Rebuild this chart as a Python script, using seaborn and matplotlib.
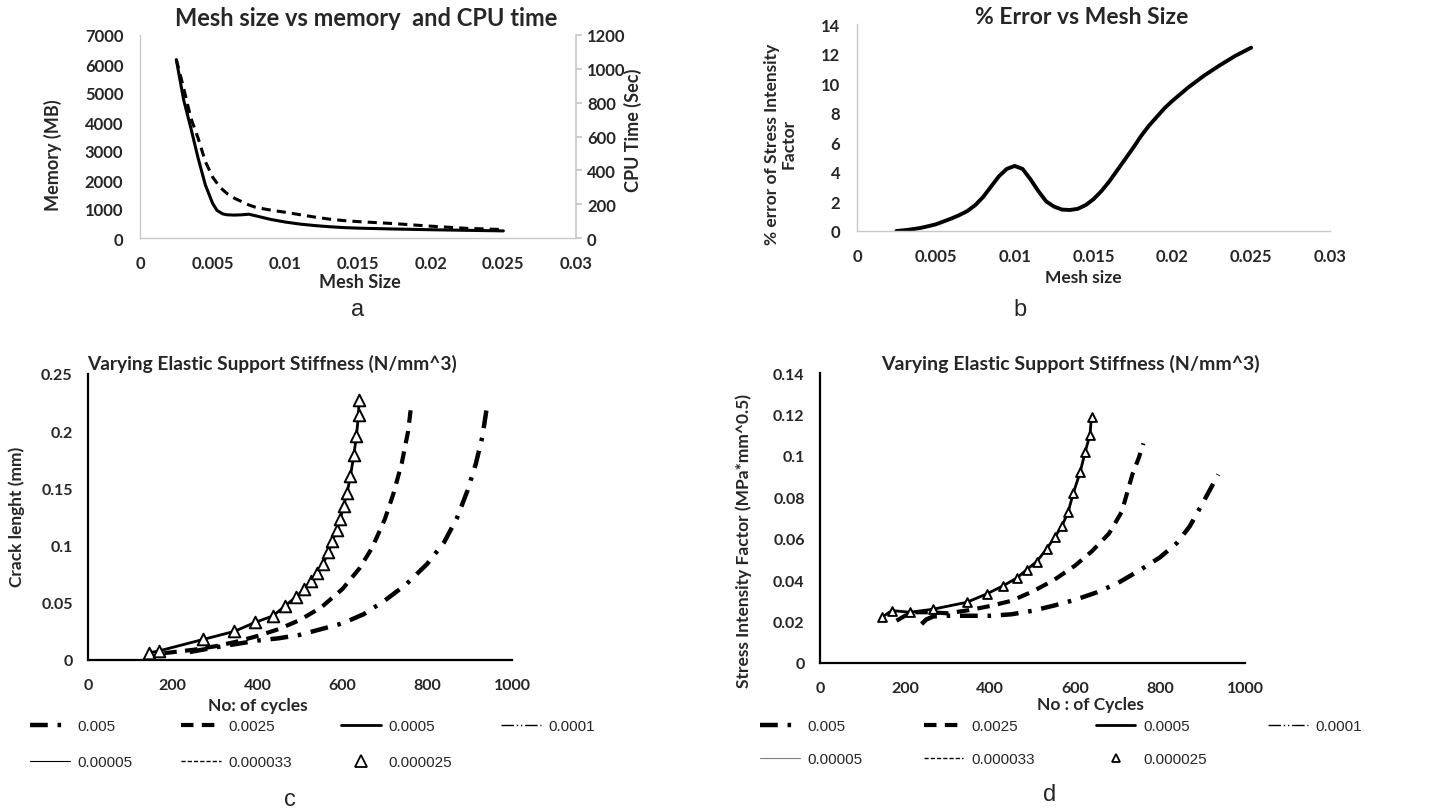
import numpy as np
import pandas as pd
import matplotlib
matplotlib.use("Agg")
import matplotlib.pyplot as plt
import seaborn as sns
from matplotlib.lines import Line2D
from matplotlib import font_manager

# ---------------- data ----------------
# panel a : memory (left axis) and CPU time (right axis) vs mesh size
mesh_mem = [0.0025, 0.003, 0.0035, 0.004, 0.0045, 0.005, 0.0053, 0.0057, 0.006, 0.0065, 0.007,
            0.0075, 0.008, 0.009, 0.01, 0.011, 0.012, 0.013, 0.014, 0.015, 0.0175, 0.02, 0.0225, 0.025]
memory_mb = [6150, 4770, 3790, 2750, 1825, 1190, 950, 830, 800, 790, 800,
             820, 760, 640, 550, 480, 430, 390, 360, 340, 310, 285, 265, 245]
mesh_cpu = [0.0025, 0.003, 0.0035, 0.004, 0.0045, 0.005, 0.0055, 0.006, 0.0065, 0.007, 0.0075,
            0.008, 0.009, 0.01, 0.011, 0.012, 0.013, 0.014, 0.015, 0.0175, 0.02, 0.0225, 0.025]
cpu_sec = [1055, 887, 709, 590, 451, 360, 300, 262, 235, 215, 195,
           180, 165, 152, 138, 124, 112, 103, 97, 85, 70, 57, 50]

# panel b : % error vs mesh size
mesh_err = [0.0025, 0.003, 0.0035, 0.004, 0.0045, 0.005, 0.0055, 0.006, 0.0065, 0.007, 0.0075,
            0.008, 0.0085, 0.009, 0.0095, 0.01, 0.0105, 0.011, 0.0115, 0.012, 0.0125, 0.013,
            0.0135, 0.014, 0.0145, 0.015, 0.0155, 0.016, 0.0165, 0.017, 0.0175, 0.018, 0.0185,
            0.019, 0.0195, 0.02, 0.021, 0.022, 0.023, 0.024, 0.025]
pct_error = [0.0, 0.05, 0.12, 0.2, 0.32, 0.45, 0.65, 0.85, 1.08, 1.35, 1.75,
             2.3, 3.0, 3.7, 4.2, 4.4, 4.2, 3.5, 2.7, 2.0, 1.65, 1.45,
             1.42, 1.5, 1.75, 2.15, 2.7, 3.35, 4.1, 4.85, 5.6, 6.4, 7.1,
             7.7, 8.3, 8.8, 9.7, 10.5, 11.2, 11.85, 12.4]

# panel c : crack length vs number of cycles
c_cyc_005 = [240, 300, 350, 400, 450, 500, 550, 600, 650, 700, 750, 800, 840, 870, 895, 915, 930, 942]
c_len_005 = [0.007, 0.011, 0.014, 0.017, 0.019, 0.022, 0.027, 0.032, 0.040, 0.052, 0.066, 0.084,
             0.103, 0.124, 0.148, 0.172, 0.195, 0.224]
c_cyc_0025 = [180, 250, 300, 350, 400, 450, 500, 550, 600, 640, 670, 700, 720, 740, 755, 763]
c_len_0025 = [0.006, 0.009, 0.012, 0.016, 0.021, 0.027, 0.035, 0.046, 0.062, 0.080, 0.098, 0.123,
              0.145, 0.172, 0.200, 0.225]
c_cyc_fine = [145, 167, 272, 345, 395, 436, 464, 490, 510, 526, 541, 554, 567, 576, 587,
              595, 603, 611, 619, 627, 633, 638, 639]
c_len_fine = [0.0064, 0.0079, 0.018, 0.025, 0.033, 0.0385, 0.047, 0.055, 0.062, 0.069, 0.076,
              0.084, 0.094, 0.104, 0.114, 0.123, 0.135, 0.146, 0.161, 0.179, 0.196, 0.214, 0.227]

# panel d : stress intensity factor vs number of cycles
d_cyc_005 = [239, 250, 267, 300, 350, 400, 450, 500, 550, 600, 650, 700, 750, 800, 840, 870, 900, 937]
d_sif_005 = [0.0188, 0.021, 0.0225, 0.0228, 0.0228, 0.0228, 0.0235, 0.0252, 0.0277, 0.0305, 0.034,
             0.0385, 0.0445, 0.051, 0.058, 0.066, 0.077, 0.091]
d_cyc_0025 = [180, 200, 220, 260, 300, 350, 400, 450, 500, 550, 600, 640, 680, 710, 735, 750, 761]
d_sif_0025 = [0.0204, 0.0228, 0.0245, 0.0245, 0.024, 0.0255, 0.0275, 0.030, 0.0345, 0.040, 0.047,
              0.054, 0.0625, 0.073, 0.091, 0.099, 0.106]
d_cyc_fine = [145, 169, 212, 267, 345, 392, 431, 463, 486, 510, 533, 553, 569, 584, 596,
              612, 624, 635, 639]
d_sif_fine = [0.022, 0.0253, 0.0245, 0.026, 0.0293, 0.0333, 0.0373, 0.041, 0.045, 0.049,
              0.055, 0.061, 0.066, 0.073, 0.082, 0.092, 0.102, 0.110, 0.119]

stiffness_labels = ["0.005", "0.0025", "0.0005", "0.0001", "0.00005", "0.000033", "0.000025"]

mesh_ticks = [0, 0.005, 0.01, 0.015, 0.02, 0.025, 0.03]
mesh_ticklabels = ["0", "0.005", "0.01", "0.015", "0.02", "0.025", "0.03"]
mem_ticks = [0, 1000, 2000, 3000, 4000, 5000, 6000, 7000]
cpu_ticks = [0, 200, 400, 600, 800, 1000, 1200]
err_ticks = [0, 2, 4, 6, 8, 10, 12, 14]
cyc_ticks = [0, 200, 400, 600, 800, 1000]
len_ticks = [0, 0.05, 0.1, 0.15, 0.2, 0.25]
len_ticklabels = ["0", "0.05", "0.1", "0.15", "0.2", "0.25"]
sif_ticks = [0, 0.02, 0.04, 0.06, 0.08, 0.1, 0.12, 0.14]
sif_ticklabels = ["0", "0.02", "0.04", "0.06", "0.08", "0.1", "0.12", "0.14"]

# ---------------- style ----------------
sns.set_theme(style="white")
avail = {f.name for f in font_manager.fontManager.ttflist}
BOLD = next((f for f in ["Lato", "Open Sans", "DejaVu Sans"] if f in avail), "DejaVu Sans")
plt.rcParams["font.family"] = [BOLD, "DejaVu Sans"]
REG = ["Liberation Sans", "DejaVu Sans"]

W, H = 1431, 812
fig = plt.figure(figsize=(W / 100, H / 100), dpi=100)


def rect(l, t, r, b):
    return [l / W, 1 - b / H, (r - l) / W, (b - t) / H]


def ftext(x, y, s, **kw):
    kw.setdefault("ha", "center")
    kw.setdefault("va", "center")
    fig.text(x / W, 1 - y / H, s, **kw)


def style_ax(ax, spine_color, tick_fs, ypad, xpad):
    for s in ["top", "right"]:
        ax.spines[s].set_visible(False)
    for s in ["left", "bottom"]:
        ax.spines[s].set_color(spine_color)
        ax.spines[s].set_linewidth(1.0 if spine_color != "black" else 1.6)
    ax.tick_params(axis="both", length=0, labelsize=tick_fs)
    ax.tick_params(axis="y", pad=ypad)
    ax.tick_params(axis="x", pad=xpad)
    for lab in ax.get_xticklabels() + ax.get_yticklabels():
        lab.set_fontweight("bold")
    ax.set_xlabel("")
    ax.set_ylabel("")
    ax.grid(False)


GRAY_AX = "#c8c8c8"

# ---------------- panel a ----------------
axa = fig.add_axes(rect(140, 36, 576, 239))
sns.lineplot(x=mesh_mem, y=memory_mb, ax=axa, color="black", lw=2.2, estimator=None, sort=False)
axa.set_xlim(0, 0.03)
axa.set_ylim(0, 7000)
axa.set_xticks(mesh_ticks)
axa.set_xticklabels(mesh_ticklabels)
axa.set_yticks(mem_ticks)
axa.set_yticklabels([str(v) for v in mem_ticks])
style_ax(axa, GRAY_AX, 12, ypad=12, xpad=12)
axa2 = axa.twinx()
sns.lineplot(x=mesh_cpu, y=cpu_sec, ax=axa2, color="black", lw=2.2, linestyle=(0, (3, 2)),
             estimator=None, sort=False)
axa2.set_ylim(0, 1200)
axa2.set_yticks(cpu_ticks)
axa2.set_yticklabels([str(v) for v in cpu_ticks])
for s in ["top", "left", "bottom"]:
    axa2.spines[s].set_visible(False)
axa2.spines["right"].set_color(GRAY_AX)
axa2.tick_params(axis="y", length=4, color=GRAY_AX, labelsize=12, pad=4)
for lab in axa2.get_yticklabels():
    lab.set_fontweight("bold")
axa2.set_ylabel("")
axa2.grid(False)
ftext(366, 19, "Mesh size vs memory  and CPU time", fontsize=17, fontweight="bold")
ftext(53, 155, "Memory (MB)", fontsize=13, fontweight="bold", rotation=90)
ftext(633, 130, "CPU Time (Sec)", fontsize=13, fontweight="bold", rotation=90)
ftext(360, 282, "Mesh Size", fontsize=13, fontweight="bold")
ftext(358, 310, "a", fontsize=17, family=REG)

# ---------------- panel b ----------------
axb = fig.add_axes(rect(857, 25, 1330, 232))
sns.lineplot(x=mesh_err, y=pct_error, ax=axb, color="black", lw=2.8, estimator=None, sort=False)
axb.set_xlim(0, 0.03)
axb.set_ylim(0, 14)
axb.set_xticks(mesh_ticks)
axb.set_xticklabels(mesh_ticklabels)
axb.set_yticks(err_ticks)
axb.set_yticklabels([str(v) for v in err_ticks])
style_ax(axb, GRAY_AX, 12, ypad=12, xpad=12)
ftext(1082, 18, "% Error vs Mesh Size", fontsize=16.5, fontweight="bold")
ftext(780, 144, "% error of Stress Intensity\nFactor", fontsize=12.5, fontweight="bold",
      rotation=90, linespacing=1.05)
ftext(1083, 278, "Mesh size", fontsize=12.5, fontweight="bold")
ftext(1020, 310, "b", fontsize=17, family=REG)

# ---------------- series styles (panels c, d) ----------------
STY = {
    "0.005": dict(lw=3.2, linestyle=(0, (4, 2.2, 0.8, 2.2))),
    "0.0025": dict(lw=3.0, linestyle=(0, (3, 2))),
    "0.0005": dict(lw=2.0, linestyle="-"),
    "0.0001": dict(lw=1.0, linestyle=(0, (9, 2, 1, 2, 1, 2))),
    "0.00005": dict(lw=0.8, linestyle="-"),
    "0.000033": dict(lw=1.0, linestyle=(0, (3, 1.5))),
}


def draw_panel(ax, data, tri_ms, fine_color):
    for lab, (xs, ys) in data.items():
        if lab == "0.000025":
            sns.scatterplot(x=xs, y=ys, ax=ax, marker="^", s=tri_ms, facecolor="white",
                            edgecolor="black", linewidth=1.4, zorder=5)
        else:
            col = fine_color if lab == "0.00005" else "black"
            sns.lineplot(x=xs, y=ys, ax=ax, color=col, estimator=None, sort=False, **STY[lab])


def make_legend(ax, anchor, tri_size, fine_color, colspacing, rowspacing):
    handles = []
    for lab in stiffness_labels:
        if lab == "0.000025":
            handles.append(Line2D([], [], marker="^", linestyle="none", markersize=tri_size,
                                  markerfacecolor="white", markeredgecolor="black", markeredgewidth=1.3))
        else:
            col = fine_color if lab == "0.00005" else "black"
            handles.append(Line2D([], [], color=col, **STY[lab]))
    order = [0, 4, 1, 5, 2, 6, 3]
    leg = ax.legend([handles[i] for i in order], [stiffness_labels[i] for i in order],
                    ncol=4, loc="upper left", bbox_to_anchor=anchor, bbox_transform=fig.transFigure,
                    frameon=False, prop={"family": REG, "size": 11}, handlelength=2.6,
                    handletextpad=0.5, columnspacing=colspacing, labelspacing=rowspacing,
                    borderaxespad=0, borderpad=0)
    return leg


# ---------------- panel c ----------------
axc = fig.add_axes(rect(88, 375, 512, 661))
c_data = {
    "0.005": (c_cyc_005, c_len_005),
    "0.0025": (c_cyc_0025, c_len_0025),
    "0.0001": (c_cyc_fine, c_len_fine),
    "0.00005": (c_cyc_fine, c_len_fine),
    "0.000033": (c_cyc_fine, c_len_fine),
    "0.0005": (c_cyc_fine, c_len_fine),
    "0.000025": (c_cyc_fine, c_len_fine),
}
draw_panel(axc, c_data, 70, "black")
axc.set_xlim(0, 1000)
axc.set_ylim(0, 0.25)
axc.set_xticks(cyc_ticks)
axc.set_xticklabels([str(v) for v in cyc_ticks])
axc.set_yticks(len_ticks)
axc.set_yticklabels(len_ticklabels)
style_ax(axc, "black", 11.5, ypad=11, xpad=13)
ftext(272, 364, "Varying Elastic Support Stiffness (N/mm^3)", fontsize=13.8, fontweight="bold")
ftext(17, 517, "Crack lenght (mm)", fontsize=12.5, fontweight="bold", rotation=90)
ftext(258, 706, "No: of cycles", fontsize=12.5, fontweight="bold")
make_legend(axc, (30 / W, 1 - 720 / H), 8, "black", 3.2, 1.45)
ftext(290, 800, "c", fontsize=17, family=REG)

# ---------------- panel d ----------------
axd = fig.add_axes(rect(820, 374, 1245, 664))
d_data = {
    "0.005": (d_cyc_005, d_sif_005),
    "0.0025": (d_cyc_0025, d_sif_0025),
    "0.0001": (d_cyc_fine, d_sif_fine),
    "0.00005": (d_cyc_fine, d_sif_fine),
    "0.000033": (d_cyc_fine, d_sif_fine),
    "0.0005": (d_cyc_fine, d_sif_fine),
    "0.000025": (d_cyc_fine, d_sif_fine),
}
draw_panel(axd, d_data, 40, "#7f7f7f")
axd.set_xlim(0, 1000)
axd.set_ylim(0, 0.14)
axd.set_xticks(cyc_ticks)
axd.set_xticklabels([str(v) for v in cyc_ticks])
axd.set_yticks(sif_ticks)
axd.set_yticklabels(sif_ticklabels)
style_ax(axd, "black", 11.5, ypad=11, xpad=13)
ftext(1070, 364, "Varying Elastic Support Stiffness (N/mm^3)", fontsize=14, fontweight="bold")
ftext(744, 541, "Stress Intensity Factor (MPa*mm^0.5)", fontsize=12.5, fontweight="bold", rotation=90)
ftext(1090, 705, "No : of Cycles", fontsize=12.5, fontweight="bold")
make_legend(axd, (760 / W, 1 - 720 / H), 6, "#7f7f7f", 4.0, 1.25)
ftext(1050, 795, "d", fontsize=17, family=REG)

fig.savefig("out.png", dpi=100, facecolor="white")
